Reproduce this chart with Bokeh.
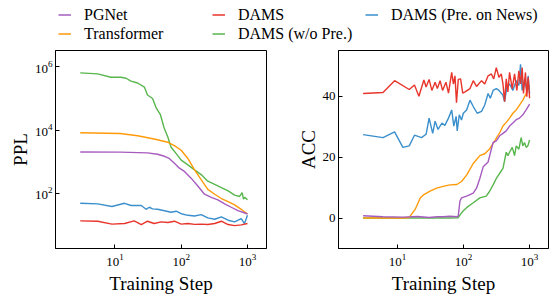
from bokeh.plotting import figure
from bokeh.models import Range1d, FixedTicker, Legend, LegendItem
from bokeh.layouts import column, row
from bokeh.embed import file_html
from bokeh.resources import INLINE

SERIF = "Liberation Serif"

# ---------------- data ----------------
series_names = ["PGNet", "Transformer", "DAMS", "DAMS (w/o Pre.)", "DAMS (Pre. on News)"]
series_colors = ["#a65cbf", "#ff9a0a", "#e8352b", "#58b64d", "#3a8fcc"]

# PPL (left panel)
ppl_pgnet_x = [3, 12, 31, 44, 56, 66, 79, 94, 112, 141, 178, 225, 284, 357, 452, 568, 716, 850, 1000]
ppl_pgnet_y = [2030, 2000, 1890, 1720, 1480, 1260, 890, 620, 490, 300, 170, 93, 74, 62, 46, 36, 28, 25, 22]

ppl_trans_x = [3, 12, 22, 39, 63, 79, 100, 126, 159, 200, 252, 320, 403, 510, 640, 805, 1000]
ppl_trans_y = [8200, 7800, 6600, 5200, 4100, 3200, 2300, 1260, 550, 270, 133, 93, 68, 54, 43, 31, 22]

ppl_dams_x = [3, 5.5, 9, 14, 19.5, 25, 31, 39, 50, 63, 79, 100, 126, 159, 200, 252, 320, 403, 510, 640, 805, 1000]
ppl_dams_y = [13.3, 13, 10.5, 11, 13.3, 10.2, 13, 11, 12.4, 11.8, 13, 10.5, 11, 10.3, 10.5, 10.2, 11, 13, 10.2, 9.4, 10, 11]

ppl_wo_x = [3, 5.5, 8.7, 12.3, 14.7, 17.5, 22, 27.8, 31, 37, 42, 48.5, 55, 63, 70, 84, 100, 126, 159, 200, 252, 320, 403, 510, 640, 760, 830, 870, 910, 1000]
ppl_wo_y = [646000, 600000, 470000, 470000, 437000, 355000, 309000, 229000, 129000, 100000, 50000, 31000, 12000, 5900, 2900, 1800, 1120, 790, 550, 390, 240, 190, 150, 118, 87, 79, 105, 65, 74, 62]

ppl_news_x = [3, 5.5, 9, 14, 17.5, 25, 29.5, 33, 37, 44, 56, 70, 84, 100, 126, 159, 200, 252, 320, 403, 510, 640, 805, 900, 1000]
ppl_news_y = [48, 46, 38, 48, 41, 41, 31, 36, 32, 31, 28, 25, 27, 22.5, 20, 19, 21, 16.6, 15, 17.8, 14, 12.4, 15.8, 11, 20]

# ACC (right panel)
acc_pgnet_x = [3, 6, 12, 20, 30, 40, 49, 62, 79, 83, 88, 93, 111, 140, 157, 176, 198, 235, 264, 280, 313, 352, 395, 443, 497, 558, 627, 703, 790, 887, 1000]
acc_pgnet_y = [0.75, 0.4, 0.3, 0.5, 0.2, 0.4, 0.4, 0.6, 0.4, 0.7, 5.6, 6.6, 7.2, 8.2, 9.8, 13.0, 16.8, 18.4, 22.7, 24.8, 25.3, 27.0, 27.8, 28.6, 30.2, 31.2, 32.3, 32.8, 33.9, 35.5, 37.4]

acc_trans_x = [3, 6, 9, 12, 15, 18.5, 22, 25, 31, 39, 49, 62, 79, 93, 111, 140, 176, 209, 248, 296, 352, 395, 443, 497, 558, 627, 703, 790, 887, 1000]
acc_trans_y = [0, 0, 0, 0, 0.2, 2.9, 6.6, 7.7, 8.8, 9.8, 10.4, 10.9, 11.0, 12.0, 14.1, 17.9, 20.5, 21.1, 22.7, 25.3, 28.0, 30.2, 31.4, 32.8, 34.4, 35.5, 37.1, 38.7, 40.9, 43.5]

acc_dams_x = [3, 6, 9, 15, 18, 21, 25, 27, 30, 33, 37, 40, 44, 48, 54, 59, 66, 70, 74, 78, 83, 90, 97, 105, 125, 140, 157, 187, 209, 235, 264, 286, 313, 343, 372, 395, 418, 443, 469, 497, 546, 592, 641, 688, 729, 772, 808, 866, 908, 952, 1000]
acc_dams_y = [40.9, 41.2, 45.1, 42.2, 43.7, 40.0, 45.3, 43.0, 45.5, 41.9, 44.6, 42.5, 45.1, 41.9, 44.6, 41.0, 47.8, 44.0, 46.7, 37.9, 45.5, 45.7, 41.0, 41.4, 42.5, 45.1, 43.2, 45.1, 44.0, 46.7, 47.3, 45.7, 49.4, 46.2, 47.3, 44.0, 38.2, 45.7, 41.4, 47.8, 42.5, 47.3, 41.9, 48.3, 44.0, 49.4, 40.9, 47.8, 39.8, 46.2, 39.3]

acc_wo_x = [3, 10, 20, 40, 60, 83, 90, 99, 111, 140, 176, 220, 248, 280, 313, 352, 395, 418, 443, 469, 497, 546, 592, 627, 688, 745, 790, 837, 887, 941, 1000]
acc_wo_y = [0, 0, 0, 0, 0, 0.1, 1.3, 2.4, 3.4, 5.0, 6.6, 7.2, 8.8, 10.9, 13.0, 14.7, 16.3, 18.9, 21.6, 20.5, 21.6, 23.2, 20.5, 23.7, 22.6, 26.4, 23.7, 24.8, 23.2, 23.7, 25.6]

acc_news_x = [3, 6, 9, 12, 15, 18, 23, 27, 30, 34, 37, 41, 47, 52, 59, 66, 71, 77, 80, 86, 93, 99, 111, 125, 140, 161, 187, 209, 235, 254, 280, 313, 343, 395, 418, 453, 497, 558, 627, 688, 729, 772, 837, 908, 952, 1000]
acc_news_y = [27.4, 26.4, 28.3, 23.2, 23.7, 27.2, 26.4, 27.5, 32.8, 27.8, 31.8, 29.1, 31.2, 30.4, 32.8, 35.5, 30.2, 33.4, 28.6, 33.9, 32.2, 34.4, 35.5, 38.7, 36.6, 34.4, 35.0, 37.1, 40.9, 39.3, 41.9, 42.5, 41.9, 40.3, 38.2, 43.0, 44.0, 41.9, 45.1, 43.5, 50.5, 41.9, 45.7, 41.9, 46.7, 40.9]

x_ticks = [10, 100, 1000]
ppl_ticks = [100, 10000, 1000000]
acc_ticks = [0, 20, 40]

ppl_series = [(ppl_pgnet_x, ppl_pgnet_y), (ppl_trans_x, ppl_trans_y), (ppl_dams_x, ppl_dams_y),
              (ppl_wo_x, ppl_wo_y), (ppl_news_x, ppl_news_y)]
acc_series = [(acc_pgnet_x, acc_pgnet_y), (acc_trans_x, acc_trans_y), (acc_dams_x, acc_dams_y),
              (acc_wo_x, acc_wo_y), (acc_news_x, acc_news_y)]
# draw order (blue and red on top like the reference)
draw_order = [3, 1, 0, 4, 2]


def style(p, xlabel, ylabel, yticks):
    p.grid.visible = False
    p.outline_line_color = "black"
    p.outline_line_width = 1
    p.xaxis.ticker = FixedTicker(ticks=x_ticks)
    p.yaxis.ticker = FixedTicker(ticks=yticks)
    p.xaxis.axis_label = xlabel
    p.yaxis.axis_label = ylabel
    for ax in (p.xaxis[0], p.yaxis[0]):
        ax.major_tick_in = 4
        ax.major_tick_out = 0
        ax.minor_tick_in = 0
        ax.minor_tick_out = 0
        ax.major_label_text_font = SERIF
        ax.major_label_text_font_size = "13px"
        ax.major_label_text_color = "black"
        ax.axis_label_text_font = SERIF
        ax.axis_label_text_font_size = "19px"
        ax.axis_label_text_font_style = "normal"
        ax.axis_label_text_color = "black"
        ax.axis_line_color = "black"
        ax.major_tick_line_color = "black"
    p.xaxis.major_label_standoff = 5
    p.xaxis.axis_label_standoff = 4
    p.yaxis.major_label_standoff = 3
    p.yaxis.axis_label_standoff = 1


left = figure(width=288, height=246, x_axis_type="log", y_axis_type="log",
              x_range=Range1d(1.27, 1935), y_range=Range1d(1.78, 3.3e6),
              min_border_left=55, min_border_right=22, min_border_top=0, min_border_bottom=43,
              output_backend="svg", toolbar_location=None)
style(left, "Training Step", "PPL", ppl_ticks)

right = figure(width=264, height=246, x_axis_type="log",
               x_range=Range1d(1.27, 1935), y_range=Range1d(-10, 55),
               min_border_left=50, min_border_right=4, min_border_top=0, min_border_bottom=43,
               output_backend="svg", toolbar_location=None)
style(right, "Training Step", "ACC", acc_ticks)

for i in draw_order:
    xs, ys = ppl_series[i]
    left.line(xs, ys, line_color=series_colors[i], line_width=1.4)
    xs, ys = acc_series[i]
    right.line(xs, ys, line_color=series_colors[i], line_width=1.4)

# legend strip: its renderers hold the ACC series but sit outside the visible range
leg = figure(width=552, height=50, x_range=Range1d(-2, -1), y_range=Range1d(-2, -1),
             x_axis_location=None, y_axis_location=None, min_border=0,
             output_backend="svg", toolbar_location=None)
leg.grid.visible = False
leg.outline_line_color = None
proxies = [leg.line(xs, ys, line_color=c, line_width=1.5)
           for (xs, ys), c in zip(acc_series, series_colors)]

columns = [([0, 1], (58, 7)), ([2, 3], (212, 7)), ([4], (365, 26))]
for idxs, loc in columns:
    L = Legend(items=[LegendItem(label=series_names[k], renderers=[proxies[k]]) for k in idxs],
               location=loc, orientation="vertical",
               glyph_width=13, glyph_height=19, label_height=19, label_standoff=13,
               spacing=0, padding=0, margin=0,
               label_text_font=SERIF, label_text_font_size="16px", label_text_color="black",
               border_line_color=None, background_fill_alpha=0)
    leg.add_layout(L)

layout = column(leg, row(left, right, spacing=0), spacing=0)
open("out.html", "w").write(file_html(layout, INLINE))
